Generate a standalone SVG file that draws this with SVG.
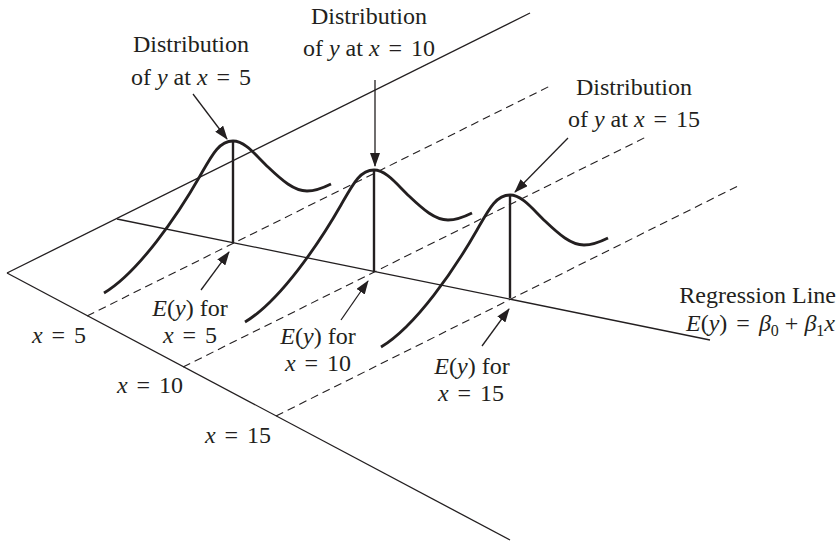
<svg xmlns="http://www.w3.org/2000/svg" width="837" height="542" viewBox="0 0 837 542">
<style>
.ax{fill:none;stroke:#231f20;stroke-width:1.3}
.ds{fill:none;stroke:#231f20;stroke-width:1.1;stroke-dasharray:8 5}
.bell{fill:none;stroke:#231f20;stroke-width:2.8;stroke-linecap:butt}
.pk{fill:none;stroke:#231f20;stroke-width:2.4}
.ar{fill:none;stroke:#231f20;stroke-width:1.3;marker-end:url(#ah)}
text,tspan{font-family:"Liberation Serif","Times New Roman",serif}
text{font-size:24px;fill:#231f20}
.c{text-anchor:middle}
.e{text-anchor:end}
.i{font-style:italic}
</style>
<defs>
<marker id="ah" markerWidth="14" markerHeight="10" refX="13" refY="5" orient="auto" markerUnits="userSpaceOnUse"><path d="M0,0 L14,5 L0,10 z" fill="#231f20"/></marker>
<path id="bellp" d="M-129,152 C-94,131 -55,73.5 -33,35 C-21,14 -14,0 0,0 C12,0 23,14.6 35,26 C49,39.3 61,50 74,50 C83,50 90,47 98,43"/>
</defs>
<g id="connectors">
<line class="ax" x1="7" y1="273" x2="530" y2="13"/>
<line class="ax" x1="7" y1="273" x2="510" y2="540"/>
<line class="ax" x1="117" y1="219" x2="710" y2="340"/>
<line class="ds" x1="87" y1="316" x2="550" y2="86"/>
<line class="ds" x1="183" y1="367" x2="646" y2="137"/>
<line class="ds" x1="276" y1="416" x2="738" y2="186"/>
<line class="ar" x1="193" y1="94" x2="227" y2="139"/>
<line class="ar" x1="375" y1="80" x2="375" y2="166"/>
<line class="ar" x1="568" y1="138" x2="515" y2="192"/>
<line class="ar" x1="201" y1="290" x2="229" y2="252"/>
<line class="ar" x1="341" y1="320" x2="368" y2="281"/>
<line class="ar" x1="482" y1="346" x2="509" y2="309"/>
</g>
<g id="dist5" transform="translate(233,141)">
<use href="#bellp" class="bell"/>
<line class="pk" x1="0" y1="0" x2="0" y2="102"/>
</g>
<g id="dist10" transform="translate(374,170)">
<use href="#bellp" class="bell"/>
<line class="pk" x1="0" y1="0" x2="0" y2="102"/>
</g>
<g id="dist15" transform="translate(510,195)">
<use href="#bellp" class="bell"/>
<line class="pk" x1="0" y1="0" x2="0" y2="103"/>
</g>
<g id="label-dist5">
<text class="c" x="191" y="52">Distribution</text>
<text class="c" x="191" y="85">of <tspan class="i">y</tspan> at <tspan class="i">x</tspan> <tspan dx="3">=</tspan> <tspan dx="3">5</tspan></text>
</g>
<g id="label-dist10">
<text class="c" x="369" y="24">Distribution</text>
<text class="c" x="369" y="56">of <tspan class="i">y</tspan> at <tspan class="i">x</tspan> <tspan dx="3">=</tspan> <tspan dx="3">10</tspan></text>
</g>
<g id="label-dist15">
<text class="c" x="634" y="95">Distribution</text>
<text class="c" x="634" y="127">of <tspan class="i">y</tspan> at <tspan class="i">x</tspan> <tspan dx="3">=</tspan> <tspan dx="3">15</tspan></text>
</g>
<g id="label-ey5">
<text class="c" x="190" y="316"><tspan class="i">E</tspan>(<tspan class="i">y</tspan>) for</text>
<text class="c" x="190" y="343"><tspan class="i">x</tspan> <tspan dx="3">=</tspan> <tspan dx="3">5</tspan></text>
</g>
<g id="label-ey10">
<text class="c" x="318" y="344"><tspan class="i">E</tspan>(<tspan class="i">y</tspan>) for</text>
<text class="c" x="318" y="371"><tspan class="i">x</tspan> <tspan dx="3">=</tspan> <tspan dx="3">10</tspan></text>
</g>
<g id="label-ey15">
<text class="c" x="472" y="374"><tspan class="i">E</tspan>(<tspan class="i">y</tspan>) for</text>
<text class="c" x="471" y="401"><tspan class="i">x</tspan> <tspan dx="3">=</tspan> <tspan dx="3">15</tspan></text>
</g>
<g id="axis-labels">
<text class="c" x="59" y="343"><tspan class="i">x</tspan> <tspan dx="3">=</tspan> <tspan dx="3">5</tspan></text>
<text class="c" x="150" y="393"><tspan class="i">x</tspan> <tspan dx="3">=</tspan> <tspan dx="3">10</tspan></text>
<text class="c" x="238" y="443"><tspan class="i">x</tspan> <tspan dx="3">=</tspan> <tspan dx="3">15</tspan></text>
</g>
<g id="label-regression">
<text class="e" x="836" y="303">Regression Line</text>
<text class="e" x="835" y="331"><tspan class="i">E</tspan>(<tspan class="i">y</tspan>) <tspan dx="3">=</tspan> <tspan dx="3" class="i">β</tspan><tspan dy="5" font-size="16">0</tspan><tspan dy="-5"> + </tspan><tspan class="i">β</tspan><tspan dy="5" font-size="16">1</tspan><tspan dy="-5" class="i">x</tspan></text>
</g>
</svg>
